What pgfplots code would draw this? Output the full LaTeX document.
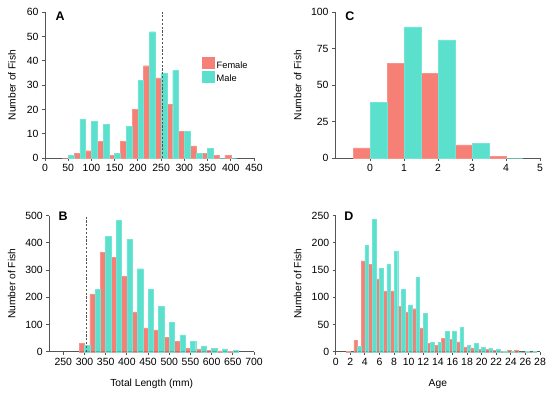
\documentclass[border=0pt]{standalone}
\usepackage{fontspec}
\setmainfont{Liberation Sans}
\usepackage{pgfplots}
\pgfplotsset{compat=1.18}
\definecolor{fem}{RGB}{246,128,118}
\definecolor{mal}{RGB}{92,224,206}
\definecolor{axc}{RGB}{85,85,85}
\tikzset{plabel/.style={font=\bfseries\fontsize{12.5}{14}\selectfont}}
\pgfplotsset{
  panel/.style={
    scale only axis,
    axis x line*=bottom, axis y line*=left,
    axis line style={-, axc, line width=1pt},
    tick style={axc, line width=0.9pt},
    tick align=outside,
    major tick length=3bp,
    enlargelimits=false,
    ymin=0,
    tick label style={font=\fontsize{10.5}{12}\selectfont},
    label style={font=\fontsize{10.3}{12}\selectfont},
    /pgf/number format/assume math mode=true,
    ylabel={Number of Fish},
    clip=false,
  },
  fb/.style={ybar, fill=fem, draw=fem!85!white, line width=0.4pt, bar shift=-#1,
    legend image code/.code={\fill[fem] (0bp,-3bp) rectangle (12bp,8bp);}},
  mb/.style={ybar, fill=mal, draw=mal!85!white, line width=0.4pt, bar shift=#1,
    legend image code/.code={\fill[mal] (0bp,-3bp) rectangle (12bp,8bp);}},
  cut/.style={axc, line width=1.2pt, dash pattern=on 2.2bp off 1.6bp},
}
\begin{document}
\begin{tikzpicture}[x=1bp,y=1bp]
\useasboundingbox (0,0) rectangle (550,394);
% ---------------- A
\begin{axis}[panel, at={(45bp,236bp)}, anchor=south west, width=209bp, height=145.7bp,
  xmin=0, xmax=450, ymax=60, xtick={0,50,...,450}, ytick={0,10,...,60}, bar width=12.5,
  ylabel style={at={(axis description cs:-0.158,0.5)}, anchor=center},
  legend style={at={(axis description cs:0.735,0.705)}, anchor=north west, draw=none, fill=none,
    font=\fontsize{9.3}{9}\selectfont, row sep=0pt,
    nodes={inner ysep=0pt, inner xsep=2.5bp, text height=8bp, text depth=3bp}},
  legend cell align=left]
\addplot[fb=6.25] coordinates {(50,0) (75,2) (100,3) (125,7) (150,1) (175,7) (200,20) (225,38) (250,33) (275,22) (300,11) (325,5) (350,2) (375,1) (400,1)};
\addplot[mb=6.25] coordinates {(50,1) (75,16) (100,15) (125,14) (150,2) (175,13) (200,32) (225,52) (250,35) (275,36) (300,11) (325,2) (350,4) (375,0) (400,0)};
\addplot[cut] coordinates {(253,0) (253,60)};
\legend{Female, Male}
\node[plabel] at (axis description cs:0.072,0.975) {A};
\end{axis}
% ---------------- C
\begin{axis}[panel, at={(335bp,236bp)}, anchor=south west, width=205bp, height=145.7bp,
  xmin=-1.03, xmax=5, ymax=100, xtick={0,1,...,5}, ytick={0,25,...,100}, bar width=0.5,
  ylabel style={at={(axis description cs:-0.182,0.5)}, anchor=center}]
\addplot[fb=0.25] coordinates {(0,7) (1,65) (2,58) (3,9) (4,1)};
\addplot[mb=0.25] coordinates {(0,38) (1,90) (2,81) (3,10) (4,0)};
\node[plabel] at (axis description cs:0.073,0.975) {C};
\end{axis}
% ---------------- B
\begin{axis}[panel, at={(49.3bp,42.3bp)}, anchor=south west, width=204.7bp, height=136bp,
  xmin=217, xmax=700, ymax=500, xtick={250,300,...,700}, ytick={0,100,...,500}, bar width=12.5,
  ylabel style={at={(axis description cs:-0.184,0.5)}, anchor=center},
  xlabel={Total Length (mm)},
  xlabel style={at={(axis description cs:0.5,-0.235)}, anchor=center}]
\addplot[fb=6.25] coordinates {(300,30) (325,213) (350,364) (375,348) (400,277) (425,146) (450,88) (475,80) (500,53) (525,37) (550,13) (575,10) (600,5) (625,3) (650,1)};
\addplot[mb=6.25] coordinates {(300,23) (325,229) (350,425) (375,483) (400,413) (425,305) (450,228) (475,166) (500,109) (525,62) (550,37) (575,21) (600,12) (625,10) (650,5)};
\addplot[cut] coordinates {(305,0) (305,500)};
\node[plabel] at (axis description cs:0.067,0.993) {B};
\end{axis}
% ---------------- D
\begin{axis}[panel, at={(335.7bp,42.3bp)}, anchor=south west, width=204.3bp, height=136bp,
  xmin=0, xmax=28, ymax=250, xtick={0,2,...,28}, ytick={0,50,...,250}, bar width=0.5,
  ylabel style={at={(axis description cs:-0.186,0.5)}, anchor=center},
  xlabel={Age},
  xlabel style={at={(axis description cs:0.5,-0.235)}, anchor=center}]
\addplot[fb=0.25] coordinates {(2,1) (3,21) (4,167) (5,161) (6,134) (7,112) (8,112) (9,83) (10,73) (11,79) (12,44) (13,15) (14,12) (15,24) (16,23) (17,18) (18,9) (19,7) (20,4) (21,4) (22,2) (23,1) (24,2) (25,2) (26,0) (27,0)};
\addplot[mb=0.25] coordinates {(2,0) (3,10) (4,195) (5,243) (6,153) (7,161) (8,184) (9,115) (10,86) (11,137) (12,71) (13,17) (14,17) (15,37) (16,37) (17,45) (18,12) (19,15) (20,8) (21,6) (22,4) (23,1) (24,1) (25,0) (26,1) (27,1)};
\node[plabel] at (axis description cs:0.065,0.995) {D};
\end{axis}
\end{tikzpicture}
\end{document}
